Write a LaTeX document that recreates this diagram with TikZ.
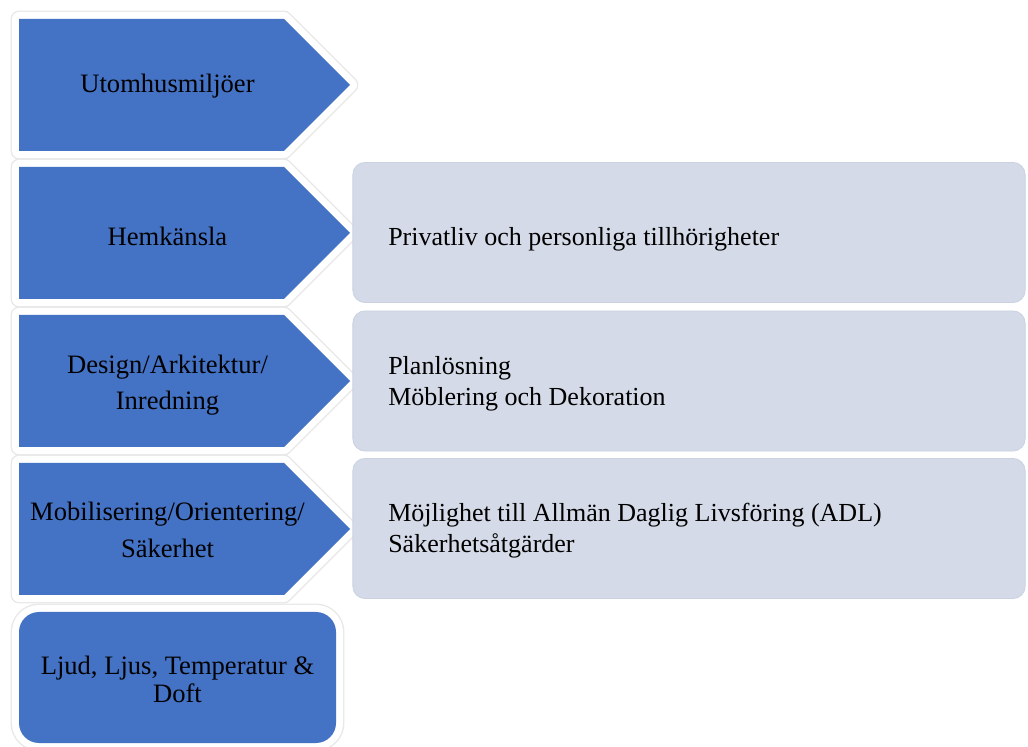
\documentclass[tikz,border=0pt]{standalone}
\usepackage{fontspec}
\setmainfont{Liberation Serif}
\definecolor{chevblue}{HTML}{4472C4}
\definecolor{listgray}{HTML}{D4DAE7}
\definecolor{listedge}{HTML}{CAD2E2}
\tikzset{
  chev/.style={fill=chevblue,
    preaction={draw=black!9, line width=12pt, line join=round},
    preaction={draw=white, line width=10pt, line join=round}},
  cattext/.style={font=\fontsize{18.9}{26}\selectfont, align=center, inner sep=0pt},
  item/.style={rectangle, rounded corners=0.3cm, fill=listgray, draw=listedge, line width=0.6pt,
    minimum height=3.5cm, minimum width=16.8cm},
  itemtext/.style={anchor=base west, align=left, inner sep=0pt,
    font=\fontsize{18.5}{22.5}\selectfont},
}
\begin{document}
\begin{tikzpicture}[x=0.025cm, y=-0.025cm]
\useasboundingbox (0,0) rectangle (1028,747);
% chevrons on the left
\path[chev] (19,19) -- (284,19) -- (350,85) -- (284,151) -- (19,151) -- cycle;
\path[chev] (19,167) -- (284,167) -- (350,233) -- (284,299) -- (19,299) -- cycle;
\path[chev] (19,315) -- (284,315) -- (350,381) -- (284,447) -- (19,447) -- cycle;
\path[chev] (19,463) -- (284,463) -- (350,529) -- (284,595) -- (19,595) -- cycle;
\path[chev, rounded corners=0.5cm] (19,612) rectangle (336,743);
\node[cattext] (outdoor) at (167.5,86) {Utomhusmiljöer};
\node[cattext] (home) at (167.5,236) {Hemkänsla};
\node[cattext] (design) at (167.5,385) {Design/Arkitektur/\\Inredning};
\node[cattext] (mobil) at (167.5,530) {Mobilisering/Orientering/\\Säkerhet};
\node[cattext, font=\fontsize{18.9}{20}\selectfont] (sense) at (177.5,679) {Ljud, Ljus, Temperatur \&\\Doft};
% lists on the right (base = last line)
\node[item] (privacy) at (689,232.5) {};
\node[item] (layout) at (689,381) {};
\node[item] (adl) at (689,528.5) {};
\node[itemtext] (privacyText) at (388,246) {Privatliv och personliga tillhörigheter};
\node[itemtext] (layoutText) at (388,406) {Planlösning\\Möblering och Dekoration};
\node[itemtext] (adlText) at (388,553) {Möjlighet till Allmän Daglig Livsföring (ADL)\\Säkerhetsåtgärder};
\end{tikzpicture}
\end{document}
